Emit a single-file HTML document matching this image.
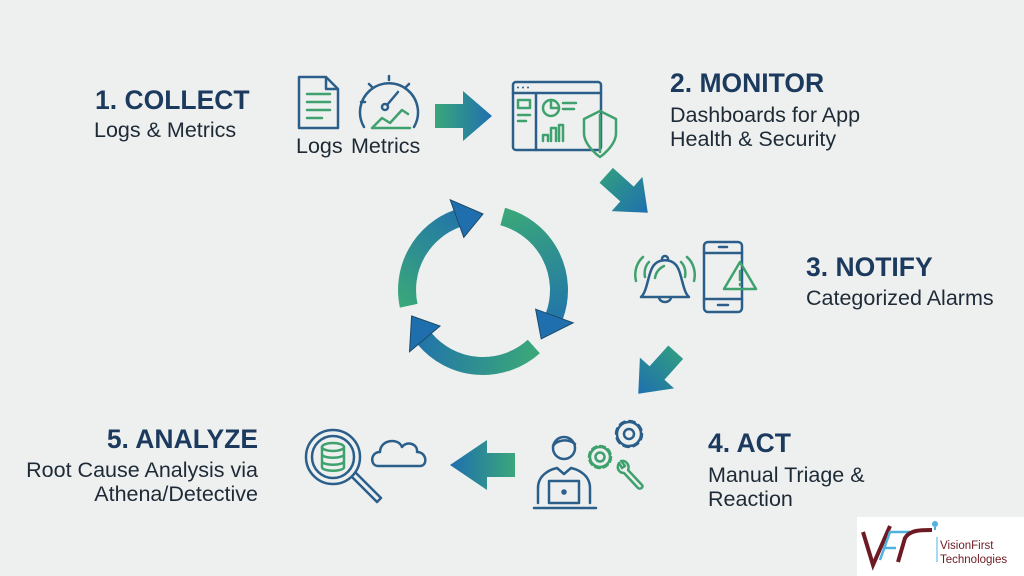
<!DOCTYPE html>
<html><head><meta charset="utf-8"><style>
html,body{margin:0;padding:0;background:#eef0f0;}
svg{display:block;}
text{font-family:"Liberation Sans",sans-serif;}
.h{font-weight:bold;font-size:26.5px;fill:#1c3a5e;}
.b{font-size:21.5px;fill:#1e2a36;}
.bl{fill:none;stroke:#2b5f8a;stroke-width:2.5;stroke-linecap:round;stroke-linejoin:round;}
.gr{fill:none;stroke:#3fa16e;stroke-width:2.5;stroke-linecap:round;stroke-linejoin:round;}
</style></head><body>
<svg width="1024" height="576" viewBox="0 0 1024 576">
<defs>
<linearGradient id="gR" x1="0" y1="0" x2="1" y2="0"><stop offset="0" stop-color="#3aa77a"/><stop offset="1" stop-color="#1f6fae"/></linearGradient>
<linearGradient id="gL" x1="0" y1="0" x2="1" y2="0"><stop offset="0" stop-color="#1f6fae"/><stop offset="1" stop-color="#3aa77a"/></linearGradient>
<linearGradient id="gD" x1="0" y1="0" x2="1" y2="0"><stop offset="0" stop-color="#2f9a85"/><stop offset="1" stop-color="#1f6fae"/></linearGradient>
<linearGradient id="c1" gradientUnits="userSpaceOnUse" x1="410" y1="310" x2="480" y2="210"><stop offset="0" stop-color="#3aa77a"/><stop offset="1" stop-color="#1f6fae"/></linearGradient>
<linearGradient id="c2" gradientUnits="userSpaceOnUse" x1="500" y1="215" x2="545" y2="340"><stop offset="0" stop-color="#3aa77a"/><stop offset="1" stop-color="#1f6fae"/></linearGradient>
<linearGradient id="c3" gradientUnits="userSpaceOnUse" x1="535" y1="345" x2="412" y2="320"><stop offset="0" stop-color="#3aa77a"/><stop offset="1" stop-color="#1f6fae"/></linearGradient>
</defs>

<!-- cycle -->
<g stroke="#1d4a66" stroke-width="1">
<path d="M408.7,305.8 A76,76 0 0 1 457,218.6" fill="none" stroke="url(#c1)" stroke-width="18"/>
<polygon points="463.8,237.4 450.2,199.8 483,214" fill="#1f6fae"/>
<path d="M502.7,216.6 A76,76 0 0 1 554.4,316" fill="none" stroke="url(#c2)" stroke-width="18"/>
<polygon points="535.6,309.2 573.2,322.8 541.2,338.9" fill="#1f6fae"/>
<path d="M533.8,346.5 A76,76 0 0 1 424.8,338.9" fill="none" stroke="url(#c3)" stroke-width="18"/>
<polygon points="440.1,326 409.5,351.7 411.6,316" fill="#1f6fae"/>
</g>

<!-- straight arrows -->
<polygon points="435,104 463,104 463,91 492,116 463,141 463,128 435,128" fill="url(#gR)"/>
<g transform="translate(627,194) rotate(42)"><polygon points="-28,-10 0,-10 0,-23 28,0 0,23 0,10 -28,10" fill="url(#gD)"/></g>
<g transform="translate(657,373) rotate(132)"><polygon points="-28,-10 0,-10 0,-23 28,0 0,23 0,10 -28,10" fill="url(#gD)"/></g>
<polygon points="515,453 487,453 487,440 450,465 487,490 487,477 515,477" fill="url(#gL)"/>

<!-- text -->
<text x="95" y="109" class="h">1. COLLECT</text>
<text x="94" y="137" class="b">Logs &amp; Metrics</text>
<text x="296" y="153" class="b">Logs</text>
<text x="351" y="153" class="b">Metrics</text>
<text x="670" y="92" class="h">2. MONITOR</text>
<text x="670" y="122" class="b">Dashboards for App</text>
<text x="670" y="146" class="b">Health &amp; Security</text>
<text x="806" y="276" class="h">3. NOTIFY</text>
<text x="806" y="305" class="b">Categorized Alarms</text>
<text x="708" y="452" class="h">4. ACT</text>
<text x="708" y="482" class="b">Manual Triage &amp;</text>
<text x="708" y="506" class="b">Reaction</text>
<text x="258" y="448" class="h" text-anchor="end">5. ANALYZE</text>
<text x="258" y="477" class="b" text-anchor="end">Root Cause Analysis via</text>
<text x="258" y="501" class="b" text-anchor="end">Athena/Detective</text>

<!-- logs icon -->
<path class="bl" d="M299,77 H326 L338,89 V128 H299 Z M326,77 V89 H338"/>
<path class="gr" d="M307,94 H330 M307,102 H330 M307,110 H330 M307,118 H322"/>
<!-- metrics gauge -->
<path class="bl" d="M364,127 A29,29 0 1 1 414,127"/>
<path class="bl" d="M389,76 V80 M369,84 L372,87 M361,102 H365 M409,84 L406,87"/>
<circle cx="385" cy="107" r="3" class="bl"/>
<path class="bl" d="M387,105 L398,92"/>
<path class="gr" d="M372,128 L382,118 L390,123 L402,110 L408,114 M372,128 H410"/>

<!-- dashboard -->
<rect x="513" y="82" width="88" height="68" rx="3" class="bl"/>
<path class="bl" d="M513,93 H601 M536,93 V150"/>
<circle cx="518" cy="87.5" r="1" fill="#2b5f8a"/><circle cx="523" cy="87.5" r="1" fill="#2b5f8a"/><circle cx="528" cy="87.5" r="1" fill="#2b5f8a"/>
<rect x="518" y="100" width="12" height="8" class="gr"/>
<path class="gr" d="M518,115 H530 M518,121 H526"/>
<circle cx="551" cy="108" r="8" class="gr"/><path class="gr" d="M551,100 V108 H559"/>
<path class="gr" d="M563,103 H576 M563,109 H574 M543,141 V135 H548 V141 M551,141 V128 H556 V141 M559,141 V125 H563 V141"/>
<path class="gr" d="M584,119 L600,111 L616,119 V133 C616,146 600,157 600,157 C600,157 584,146 584,133 Z M600,115 V152" fill="#eef0f0"/>

<!-- bell -->
<path class="bl" d="M641,297 C648,291 648,270 655,264 C660,259 670,259 675,264 C682,270 682,291 689,297 Z M662,259 A3,3 0 0 1 668,259 M659,297 A6,5 0 0 0 671,297"/>
<path class="gr" d="M643,257 C636,263 634,273 636,281 M649,262 C645,266 644,272 645,277 M687,257 C694,263 696,273 694,281 M681,262 C685,266 686,272 685,277 M655,278 C656,271 660,268 664,266"/>
<!-- phone -->
<rect x="704" y="242" width="38" height="70" rx="4" class="bl"/>
<path class="bl" d="M704,253 H742 M704,299 H742 M718,305 H728 M719,247 H727"/>
<path class="gr" d="M740,262 L756,289 H724 Z M740,271 V280 M740,284 V285" fill="#eef0f0"/>

<!-- analyze -->
<circle cx="333" cy="457" r="27" class="bl"/><circle cx="333" cy="457" r="21" class="bl"/>
<path class="bl" d="M352,477 L362,487 L377,502 L381,498 L366,483 L356,473"/>
<ellipse cx="333" cy="447" rx="11" ry="4" class="gr"/>
<path class="gr" d="M322,447 V467 C322,472 344,472 344,467 V447 M322,454 C322,459 344,459 344,454 M322,461 C322,466 344,466 344,461"/>
<path class="bl" d="M378,466 C370,466 370,452 380,452 C380,440 398,437 402,447 C406,441 418,443 417,452 C427,452 428,466 420,466 Z"/>

<!-- act person -->
<circle cx="564" cy="448" r="11" class="bl"/>
<path class="bl" d="M553,446 C557,440 568,438 575,444"/>
<path class="bl" d="M538,503 V488 C538,476 548,470 557,468 M590,503 V488 C590,476 580,470 571,468 M557,468 L564,474 L571,468"/>
<rect x="549" y="481" width="30" height="22" class="bl"/>
<circle cx="564" cy="492" r="1.5" class="bl"/>
<path class="bl" d="M534,508 H596"/>
<!-- gears -->
<g transform="translate(629,434)">
<circle r="13" class="bl" stroke-dasharray="5.5 4.7" stroke-width="6"/>
<circle r="12" class="bl"/><circle r="5" class="bl"/>
</g>
<g transform="translate(600,457)">
<circle r="11" class="gr" stroke-dasharray="5 3.6" stroke-width="6"/>
<circle r="10" class="gr"/><circle r="4.5" class="gr"/>
</g>
<path class="gr" d="M619,463 C616,468 619,473 624,473 L638,488 C640,490 644,487 642,485 L628,470 C630,465 626,460 621,461 L625,466 L622,468 Z"/>

<!-- logo -->
<rect x="857" y="517" width="167" height="59" fill="#ffffff"/>
<path d="M863,532 L873,565 L890,526" fill="none" stroke="#6e1a24" stroke-width="4"/>
<path d="M880,560 L890,532 L910,532 M883,548 L896,548" fill="none" stroke="#4fb3e0" stroke-width="2.5"/>
<path d="M898,562 L905,538 C910,530 920,530 932,530" fill="none" stroke="#6e1a24" stroke-width="4"/>
<circle cx="935" cy="524" r="3" fill="#4fb3e0"/>
<path d="M935,527 V530" stroke="#4fb3e0" stroke-width="2"/>
<path d="M937,537 V562" stroke="#4fb3e0" stroke-width="1"/>
<text x="940" y="549" font-size="11.5" fill="#6e1a24">VisionFirst</text>
<text x="940" y="563" font-size="11.5" fill="#6e1a24">Technologies</text>
</svg>
</body></html>
